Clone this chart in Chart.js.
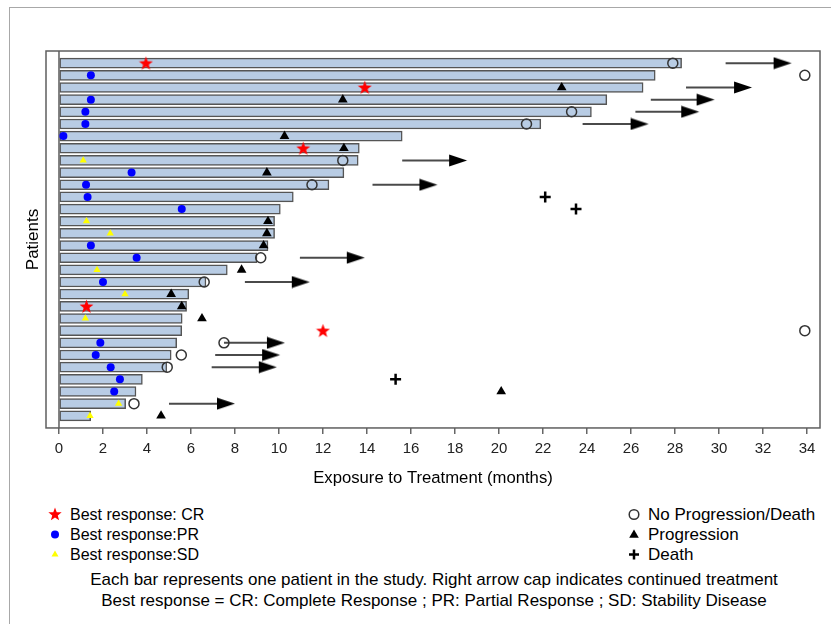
<!DOCTYPE html>
<html><head><meta charset="utf-8">
<script src="https://cdn.jsdelivr.net/npm/chart.js@4.4.1/dist/chart.umd.min.js"></script>
<style>
html,body{margin:0;padding:0;background:#fff;}
body{width:831px;height:624px;position:relative;overflow:hidden;font-family:"Liberation Sans",Arial,sans-serif;}
#frame{position:absolute;left:9px;top:7px;width:900px;height:700px;border:1px solid #a8a8a8;}
#wrap{position:absolute;left:0;top:0;width:831px;height:500px;}
.lg{position:absolute;font-size:17px;line-height:20px;color:#000;white-space:nowrap;}
.lg.l{font-size:16px;}
.ic{position:absolute;}
.fn{position:absolute;font-size:17px;line-height:20px;text-align:center;white-space:nowrap;color:#000;}
</style></head><body>
<div id="frame"></div>
<div id="wrap"><canvas id="c" width="831" height="500"></canvas></div>

<canvas class="ic" id="i1" width="16" height="16" style="left:47px;top:506px"></canvas>
<div class="lg l" style="left:70px;top:505px">Best response: CR</div>
<canvas class="ic" id="i2" width="16" height="16" style="left:47px;top:526px"></canvas>
<div class="lg l" style="left:70px;top:525px">Best response:PR</div>
<canvas class="ic" id="i3" width="16" height="16" style="left:47px;top:546px"></canvas>
<div class="lg l" style="left:70px;top:545px">Best response:SD</div>

<canvas class="ic" id="i4" width="16" height="16" style="left:626px;top:506px"></canvas>
<div class="lg" style="left:648px;top:505px">No Progression/Death</div>
<canvas class="ic" id="i5" width="16" height="16" style="left:626px;top:526px"></canvas>
<div class="lg" style="left:648px;top:525px">Progression</div>
<canvas class="ic" id="i6" width="16" height="16" style="left:626px;top:546px"></canvas>
<div class="lg" style="left:648px;top:545px">Death</div>

<div class="fn" style="left:0;width:868px;top:570px">Each bar represents one patient in the study. Right arrow cap indicates continued treatment</div>
<div class="fn" style="left:0;width:868px;top:591px">Best response = CR: Complete Response ; PR: Partial Response ; SD: Stability Disease</div>

<script>
// ---------------- data ----------------
const patients = [1,2,3,4,5,6,7,8,9,10,11,12,13,14,15,16,17,18,19,20,21,22,23,24,25,26,27,28,29,30];
const exposure = [28.3,27.1,26.55,24.9,24.2,21.9,15.6,13.65,13.6,12.95,12.27,10.65,10.06,9.8,9.8,9.5,9.0,7.65,6.68,5.9,5.8,5.6,5.58,5.35,5.1,4.9,3.79,3.5,3.03,1.44];

const crRow = [1,3,8,21,23];
const crX   = [3.95,13.9,11.1,1.25,12.0];

const prRow = [2,4,5,6,7,10,11,12,13,16,17,19,24,25,26,27,28];
const prX   = [1.45,1.45,1.2,1.2,0.2,3.3,1.23,1.3,5.58,1.45,3.53,2.0,1.88,1.67,2.35,2.77,2.51];

const sdRow = [9,14,15,18,20,22,29,30];
const sdX   = [1.1,1.25,2.33,1.73,3.0,1.2,2.71,1.41];

const noProgRow = [1,2,5,6,9,11,17,19,23,24,25,26,29];
const noProgX   = [27.9,33.9,23.3,21.25,12.9,11.5,9.17,6.6,33.9,7.5,5.56,4.92,3.41];

const progRow = [3,4,7,8,10,14,15,16,18,20,21,22,28,30];
const progX   = [22.85,12.9,10.25,12.95,9.45,9.5,9.45,9.3,8.3,5.1,5.58,6.5,20.1,4.64];

const deathRow = [12,13,27];
const deathX   = [22.1,23.5,15.3];

const arrowRow   = [1,3,4,5,6,9,11,17,19,24,25,26,29];
const arrowStart = [30.3,28.5,26.9,26.2,23.8,15.6,14.25,10.95,8.45,7.5,7.1,6.94,5.0];
const arrowEnd   = [33.3,31.5,29.8,29.1,26.8,18.55,17.2,13.9,11.4,10.27,10.05,9.9,8.0];

const xTicks = [0,2,4,6,8,10,12,14,16,18,20,22,24,26,28,30,32,34];

// ---------------- marker images ----------------
function starPath(ctx, cx, cy, ro, ri){
  ctx.beginPath();
  for (let k=0;k<10;k++){
    const r = k%2===0 ? ro : ri;
    const a = -Math.PI/2 + k*Math.PI/5;
    const px = cx + r*Math.cos(a), py = cy + r*Math.sin(a);
    if (k===0) ctx.moveTo(px,py); else ctx.lineTo(px,py);
  }
  ctx.closePath();
}
function makeStar(){
  const c = document.createElement('canvas'); c.width=15; c.height=15;
  const g = c.getContext('2d'); g.fillStyle='#ff0000';
  starPath(g,7.5,8,7.3,3.0); g.fill();
  return c;
}
function makeHead(){
  const c = document.createElement('canvas'); c.width=40; c.height=13;
  const g = c.getContext('2d'); g.fillStyle='#000';
  g.beginPath(); g.moveTo(2,0.5); g.lineTo(20,6.5); g.lineTo(2,12.5); g.closePath(); g.fill();
  return c;
}
const starImg = makeStar();
const headImg = makeHead();

// ---------------- legend icons ----------------
(function(){
  let g = document.getElementById('i1').getContext('2d'); g.fillStyle='#ff0000'; starPath(g,8,8.5,7,2.9); g.fill();
  g = document.getElementById('i2').getContext('2d'); g.fillStyle='#0000ff'; g.beginPath(); g.arc(8,8.5,4,0,Math.PI*2); g.fill();
  g = document.getElementById('i3').getContext('2d'); g.fillStyle='#ffff00'; g.beginPath(); g.moveTo(8,4.5); g.lineTo(11.5,10.5); g.lineTo(4.5,10.5); g.closePath(); g.fill();
  g = document.getElementById('i4').getContext('2d'); g.strokeStyle='#333'; g.lineWidth=1.5; g.beginPath(); g.arc(8,8.5,4.8,0,Math.PI*2); g.stroke();
  g = document.getElementById('i5').getContext('2d'); g.fillStyle='#000'; g.beginPath(); g.moveTo(8,3.5); g.lineTo(12.8,11.8); g.lineTo(3.2,11.8); g.closePath(); g.fill();
  g = document.getElementById('i6').getContext('2d'); g.strokeStyle='#000'; g.lineWidth=2.5; g.beginPath(); g.moveTo(3,8.5); g.lineTo(13,8.5); g.moveTo(8,3.5); g.lineTo(8,13.5); g.stroke();
})();

// ---------------- chart ----------------
const pts = (rows, xs) => rows.map((r,i)=>({x:xs[i], y:r}));

const datasets = [];
datasets.push({
  type:'bar', indexAxis:'y', label:'Exposure',
  data: patients.map((p,i)=>({x:exposure[i], y:p})),
  backgroundColor:'#b8cce4', borderColor:'#555555', borderWidth:1.5, borderSkipped:false,
  barThickness:10, order:20
});
datasets.push({
  type:'line', label:'zero', data:[{x:0,y:0},{x:0,y:31}],
  borderColor:'#5f5f5f', borderWidth:1.5, pointRadius:0, order:19
});
arrowRow.forEach((r,i)=>{
  datasets.push({
    type:'line', label:'arrow'+i,
    data:[{x:arrowStart[i], y:r},{x:arrowEnd[i]-0.4, y:r}],
    borderColor:'#4a4a4a', borderWidth:2, pointRadius:0, order:10
  });
});
datasets.push({type:'scatter', label:'heads', data:pts(arrowRow, arrowEnd), pointStyle:headImg, pointRadius:6, order:9});
datasets.push({type:'scatter', label:'No Progression/Death', data:pts(noProgRow,noProgX), pointStyle:'circle', pointRadius:5, backgroundColor:'rgba(0,0,0,0)', borderColor:'#333', borderWidth:1.5, order:5});
datasets.push({type:'scatter', label:'Progression', data:pts(progRow,progX), pointStyle:'triangle', pointRadius:5.6, backgroundColor:'#000', borderWidth:0, order:4});
datasets.push({type:'scatter', label:'Death', data:pts(deathRow,deathX), pointStyle:'cross', pointRadius:5.5, borderColor:'#000', borderWidth:2.5, order:4});
datasets.push({type:'scatter', label:'Best response:PR', data:pts(prRow,prX), pointStyle:'circle', pointRadius:4, backgroundColor:'#0000ff', borderWidth:0, order:2});
datasets.push({type:'scatter', label:'Best response:SD', data:pts(sdRow,sdX), pointStyle:'triangle', pointRadius:4.2, backgroundColor:'#ffff00', borderWidth:0, order:2});
datasets.push({type:'scatter', label:'Best response: CR', data:pts(crRow,crX), pointStyle:starImg, pointRadius:7, order:1});

const framePlugin = {
  id:'frame',
  afterDraw(chart){
    const {ctx, chartArea:a} = chart;
    ctx.save(); ctx.strokeStyle='#5f5f5f'; ctx.lineWidth=1.5;
    ctx.strokeRect(a.left, a.top, a.right-a.left, a.bottom-a.top);
    ctx.restore();
  }
};

Chart.defaults.font.family = '"Liberation Sans", Arial, sans-serif';
new Chart(document.getElementById('c'), {
  type:'bar',
  data:{datasets},
  options:{
    responsive:false, animation:false,
    layout:{padding:{left:18, top:51, right:11, bottom:12}},
    plugins:{legend:{display:false}, tooltip:{enabled:false}},
    scales:{
      x:{
        type:'linear', min:-0.59, max:34.59, offset:false,
        afterBuildTicks: s => { s.ticks = xTicks.map(v=>({value:v})); },
        ticks:{font:{size:15}, color:'#222', padding:6, maxRotation:0, autoSkip:false},
        grid:{display:true, offset:false, drawOnChartArea:false, drawTicks:true, tickLength:6, color:'#666', lineWidth:1.5},
        border:{display:false},
        title:{display:true, text:'Exposure to Treatment (months)', font:{size:16.7}, color:'#000', padding:{top:4,bottom:0}}
      },
      y:{
        type:'linear', min:0, max:31, reverse:true, offset:false,
        ticks:{display:false},
        grid:{display:false, offset:false, drawTicks:false},
        border:{display:false},
        title:{display:true, text:'Patients', font:{size:17}, color:'#000', padding:{top:5,bottom:2.6}}
      }
    }
  },
  plugins:[framePlugin]
});
</script>
</body></html>
